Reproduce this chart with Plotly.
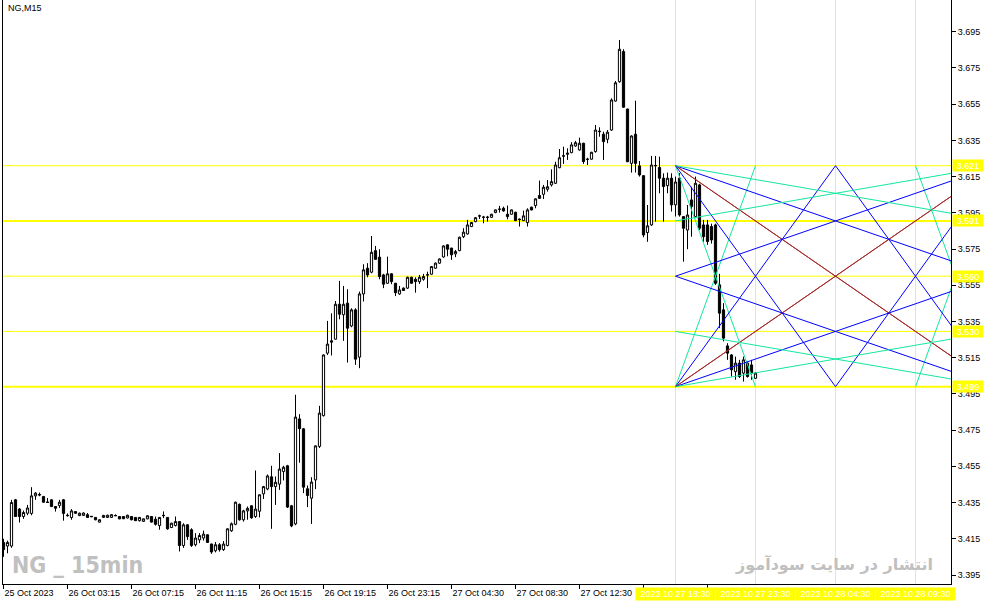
import plotly.graph_objects as go

# ---------------- candle data (NG, M15) ----------------
bar_open = [3.413, 3.411, 3.411, 3.4365, 3.4314, 3.4273, 3.4291, 3.429, 3.4387, 3.4395,
            3.4383, 3.4353, 3.4365, 3.4328, 3.4334, 3.4365, 3.428, 3.4267, 3.430, 3.4278,
            3.4279, 3.4283, 3.4274, 3.4268, 3.4242, 3.4268, 3.4268, 3.4268, 3.4277, 3.4273,
            3.4273, 3.4265, 3.4273, 3.4268, 3.425, 3.4246, 3.426, 3.4273, 3.4258, 3.4223,
            3.4277, 3.4268, 3.4212, 3.4223, 3.4245, 3.4113, 3.4227, 3.420, 3.4117, 3.4144,
            3.4154, 3.4172, 3.4121, 3.4084, 3.4117, 3.409, 3.4113, 3.4194, 3.423, 3.434,
            3.4255, 3.4304, 3.4332, 3.4273, 3.4302, 3.4398, 3.4425, 3.4492, 3.4438, 3.4452,
            3.4521, 3.4553, 3.4332, 3.4232, 3.4812, 3.4757, 3.4426, 3.4374, 3.4475, 3.466,
            3.483, 3.5175, 3.5243, 3.5252, 3.5445, 3.5387, 3.5451, 3.5325, 3.5414, 3.5153,
            3.5502, 3.5644, 3.5622, 3.5741, 3.5705, 3.5607, 3.5561, 3.5613, 3.5561, 3.5502,
            3.5534, 3.5534, 3.5594, 3.5583, 3.557, 3.5583, 3.5606, 3.5611, 3.5644, 3.5672,
            3.5706, 3.5773, 3.5755, 3.5723, 3.5741, 3.5818, 3.5833, 3.5874, 3.5901, 3.5932,
            3.5925, 3.5926, 3.5925, 3.5951, 3.5969, 3.5975, 3.5942, 3.5942, 3.5953, 3.5915,
            3.5907, 3.5896, 3.5981, 3.599, 3.6045, 3.6052, 3.608, 3.6104, 3.6113, 3.6199,
            3.6265, 3.6273, 3.6282, 3.6319, 3.6297, 3.6334, 3.6246, 3.6246, 3.6288, 3.6398,
            3.6384, 3.6356, 3.6407, 3.6567, 3.6674, 3.684, 3.6523, 3.6223, 3.6384, 3.6209,
            3.6155, 3.5841, 3.5883, 3.6209, 3.620, 3.6141, 3.610, 3.6141, 3.5994, 3.6141,
            3.5929, 3.5855, 3.6021, 3.5929, 3.6104, 3.5883, 3.5883, 3.5874, 3.5883, 3.5552,
            3.5414, 3.5215, 3.5165, 3.5073, 3.512, 3.5065, 3.512, 3.511, 3.5036]
bar_high = [3.415, 3.414, 3.4365, 3.437, 3.432, 3.4306, 3.4337, 3.4435, 3.4408, 3.4405,
            3.4387, 3.4375, 3.4368, 3.433, 3.4365, 3.437, 3.429, 3.4314, 3.4302, 3.4295,
            3.4296, 3.4292, 3.4276, 3.427, 3.4257, 3.4282, 3.4283, 3.4285, 3.4285, 3.4275,
            3.4276, 3.4283, 3.4276, 3.427, 3.427, 3.4262, 3.428, 3.4276, 3.4273, 3.427,
            3.4301, 3.427, 3.4238, 3.4273, 3.4247, 3.4236, 3.423, 3.4208, 3.4181, 3.4181,
            3.4195, 3.4174, 3.4123, 3.4132, 3.4126, 3.4137, 3.4208, 3.424, 3.4355, 3.4345,
            3.431, 3.4328, 3.4335, 3.4527, 3.4395, 3.4442, 3.4505, 3.4553, 3.4494, 3.4623,
            3.4553, 3.4558, 3.4337, 3.4945, 3.4838, 3.4762, 3.4444, 3.449, 3.4665, 3.4884,
            3.5168, 3.5353, 3.5395, 3.5463, 3.5574, 3.5546, 3.5528, 3.5423, 3.5423, 3.5515,
            3.5666, 3.5672, 3.5822, 3.5767, 3.5749, 3.5613, 3.5708, 3.5616, 3.5563, 3.5546,
            3.5538, 3.5597, 3.5597, 3.5594, 3.5607, 3.5613, 3.5625, 3.5656, 3.5675, 3.5698,
            3.577, 3.5776, 3.5757, 3.5745, 3.5818, 3.5865, 3.5911, 3.590, 3.5927, 3.594,
            3.5933, 3.5933, 3.5944, 3.5968, 3.5988, 3.5984, 3.599, 3.5968, 3.5956, 3.5919,
            3.5962, 3.5975, 3.5984, 3.603, 3.6128, 3.6104, 3.6131, 3.619, 3.6232, 3.6302,
            3.6315, 3.6306, 3.634, 3.6347, 3.6365, 3.6337, 3.6254, 3.6287, 3.6435, 3.6422,
            3.6398, 3.6407, 3.6582, 3.6678, 3.6904, 3.6853, 3.6525, 3.6378, 3.6569, 3.6236,
            3.6158, 3.5993, 3.6264, 3.6264, 3.626, 3.6168, 3.6172, 3.6168, 3.615, 3.617,
            3.5932, 3.5993, 3.6094, 3.615, 3.611, 3.5911, 3.5911, 3.589, 3.589, 3.5613,
            3.5451, 3.523, 3.517, 3.5156, 3.5138, 3.5156, 3.5125, 3.5138, 3.507]
bar_low = [3.405, 3.407, 3.410, 3.427, 3.424, 3.426, 3.428, 3.428, 3.4365, 3.4385,
           3.435, 3.435, 3.4325, 3.430, 3.432, 3.425, 3.4272, 3.4255, 3.4288, 3.4275,
           3.4276, 3.4265, 3.427, 3.4252, 3.424, 3.4265, 3.4266, 3.4265, 3.4276, 3.4258,
           3.4258, 3.4262, 3.4252, 3.4248, 3.4245, 3.4243, 3.4258, 3.424, 3.4223, 3.420,
           3.4264, 3.420, 3.421, 3.4218, 3.408, 3.410, 3.4144, 3.4105, 3.4108, 3.4126,
           3.414, 3.4128, 3.4067, 3.4075, 3.4079, 3.4083, 3.4108, 3.4188, 3.4225, 3.425,
           3.4245, 3.4255, 3.426, 3.4265, 3.4268, 3.437, 3.4418, 3.4205, 3.4337, 3.442,
           3.4472, 3.432, 3.4214, 3.4225, 3.457, 3.4402, 3.4325, 3.4232, 3.4424, 3.4651,
           3.4825, 3.5165, 3.5162, 3.525, 3.5362, 3.5243, 3.5123, 3.5318, 3.511, 3.5092,
           3.546, 3.5594, 3.5616, 3.5692, 3.5583, 3.5534, 3.5558, 3.5556, 3.549, 3.5497,
           3.5518, 3.553, 3.5558, 3.5509, 3.5557, 3.5575, 3.5534, 3.5608, 3.564, 3.5668,
           3.5702, 3.571, 3.569, 3.5705, 3.5738, 3.581, 3.583, 3.5871, 3.5898, 3.5916,
           3.5892, 3.5901, 3.5922, 3.5948, 3.5951, 3.5957, 3.5914, 3.594, 3.5904, 3.5874,
           3.5904, 3.5874, 3.5963, 3.5975, 3.6027, 3.6026, 3.6067, 3.6095, 3.6109, 3.6196,
           3.622, 3.6242, 3.6279, 3.6315, 3.6293, 3.622, 3.6214, 3.6243, 3.6282, 3.637,
           3.6242, 3.6334, 3.6402, 3.6564, 3.6668, 3.653, 3.623, 3.6172, 3.6172, 3.615,
           3.5815, 3.579, 3.5878, 3.5901, 3.6058, 3.5901, 3.6058, 3.5957, 3.593, 3.5929,
           3.568, 3.5749, 3.5818, 3.592, 3.5855, 3.579, 3.5773, 3.578, 3.5552, 3.5313,
           3.524, 3.5138, 3.5046, 3.5028, 3.5038, 3.5018, 3.504, 3.5028, 3.5033]
bar_close = [3.409, 3.413, 3.435, 3.4273, 3.4273, 3.4295, 3.432, 3.4387, 3.4402, 3.4392,
             3.4352, 3.4351, 3.4328, 3.4319, 3.4352, 3.429, 3.4278, 3.4304, 3.4291, 3.4291,
             3.4292, 3.4268, 3.4272, 3.4255, 3.4255, 3.4279, 3.428, 3.4283, 3.4278, 3.426,
             3.4261, 3.428, 3.4255, 3.425, 3.4268, 3.426, 3.4277, 3.4242, 3.423, 3.4268,
             3.4279, 3.4205, 3.4236, 3.4245, 3.4113, 3.4227, 3.4162, 3.4113, 3.4154, 3.4168,
             3.4176, 3.413, 3.4077, 3.4117, 3.409, 3.4121, 3.4205, 3.4233, 3.4352, 3.4255,
             3.4304, 3.4318, 3.4266, 3.4314, 3.4393, 3.4438, 3.4497, 3.4438, 3.4462, 3.4535,
             3.4545, 3.4325, 3.4221, 3.4822, 3.4758, 3.4435, 3.4389, 3.4463, 3.4663, 3.4844,
             3.5165, 3.5225, 3.5236, 3.5445, 3.539, 3.5445, 3.5313, 3.5414, 3.5142, 3.5502,
             3.5635, 3.5607, 3.5732, 3.5693, 3.5598, 3.5556, 3.5613, 3.557, 3.5509, 3.5524,
             3.5521, 3.5594, 3.5561, 3.557, 3.5594, 3.5598, 3.5608, 3.5653, 3.5672, 3.5695,
             3.5767, 3.5749, 3.5718, 3.5736, 3.5815, 3.5843, 3.5883, 3.5896, 3.5923, 3.5933,
             3.5926, 3.5925, 3.5942, 3.5966, 3.597, 3.596, 3.5929, 3.5966, 3.5907, 3.5913,
             3.5933, 3.5966, 3.5966, 3.6027, 3.603, 3.6091, 3.6094, 3.6122, 3.6214, 3.6254,
             3.6263, 3.6279, 3.6325, 3.6337, 3.6334, 3.6233, 3.6245, 3.6284, 3.6407, 3.640,
             3.6343, 3.6395, 3.6573, 3.6668, 3.6853, 3.6533, 3.6232, 3.6374, 3.6223, 3.6159,
             3.5828, 3.5878, 3.6214, 3.6211, 3.6141, 3.6095, 3.6141, 3.5994, 3.612, 3.5938,
             3.5865, 3.5938, 3.5985, 3.6113, 3.5865, 3.5818, 3.5791, 3.580, 3.5561, 3.5396,
             3.5258, 3.5175, 3.5083, 3.512, 3.5046, 3.5138, 3.5046, 3.5065, 3.5065]
bar_index = list(range(len(bar_open)))

# ---------------- axes ----------------
# the last two time labels sit under the yellow Gann time labels, so they stay blank
x_tick_bars = [0, 16, 32, 48, 64, 80, 96, 112, 128, 144, 160, 176]
x_tick_labels = ["25 Oct 2023", "26 Oct 03:15", "26 Oct 07:15", "26 Oct 11:15",
                 "26 Oct 15:15", "26 Oct 19:15", "26 Oct 23:15", "27 Oct 04:30",
                 "27 Oct 08:30", "27 Oct 12:30", "", ""]
y_tick_values = [3.395, 3.415, 3.435, 3.455, 3.475, 3.495, 3.515, 3.535, 3.555,
                 3.575, 3.595, 3.615, 3.635, 3.655, 3.675, 3.695]
y_tick_labels = ["3.395", "3.415", "3.435", "3.455", "3.475", "3.495", "3.515", "3.535",
                 "3.555", "3.575", "3.595", "3.615", "3.635", "3.655", "3.675", "3.695"]

# ---------------- Gann grid object ----------------
gann_time_bars = [168, 188, 208, 228]
gann_time_labels = ["2023.10.27 18:30", "2023.10.27 23:30", "2023.10.28 04:30", "2023.10.28 09:30"]
gann_levels = [3.499, 3.5295, 3.560, 3.5905, 3.621]
gann_level_labels = ["3.499", "3.530", "3.560", "3.591", "3.621"]
gann_level_widths = [2, 1, 1, 2, 1]
fan_ratios = [1, 2, 4, 8, 16]
fan_colors = ["#14E6A0", "#0000FF", "#A52A2A", "#0000FF", "#14E6A0"]

YEL = "#FFFF00"
FONT = "Liberation Sans, Arial, sans-serif"

fig = go.Figure()

# Gann fan lines from the four corners of the box (4 columns wide)
t0 = gann_time_bars[0]
step = gann_time_bars[1] - gann_time_bars[0]
lo, hi = gann_levels[0], gann_levels[-1]
ncols = 4
corners = [(0, 1, 1, -1), (0, 0, 1, 1), (ncols, 1, -1, -1), (ncols, 0, -1, 1)]
for r, col in zip(fan_ratios, fan_colors):
    for (uc, vc, du, dv) in corners:
        span = min(r, ncols)
        u1 = uc + du * span
        v1 = vc + dv * span / r
        fig.add_trace(go.Scatter(
            x=[t0 + uc * step, t0 + u1 * step],
            y=[lo + vc * (hi - lo), lo + v1 * (hi - lo)],
            mode="lines", line=dict(color=col, width=1),
            hoverinfo="skip", showlegend=False))

fig.add_trace(go.Candlestick(
    x=bar_index, open=bar_open, high=bar_high, low=bar_low, close=bar_close,
    increasing=dict(line=dict(color="black", width=1), fillcolor="white"),
    decreasing=dict(line=dict(color="black", width=1), fillcolor="black"),
    whiskerwidth=0, hoverinfo="skip", showlegend=False))

shapes = []
for lvl, w in zip(gann_levels, gann_level_widths):
    shapes.append(dict(type="line", xref="paper", x0=0, x1=1, yref="y", y0=lvl, y1=lvl,
                       line=dict(color=YEL, width=w), layer="below"))
for tb in gann_time_bars:
    shapes.append(dict(type="line", xref="x", x0=tb, x1=tb, yref="paper", y0=0, y1=1,
                       line=dict(color=YEL, width=1), layer="below"))

annotations = []
for lvl, lab in zip(gann_levels, gann_level_labels):
    annotations.append(dict(xref="paper", x=1, xanchor="left", xshift=1, yref="y", y=lvl,
                            yanchor="middle", text=lab, showarrow=False, bgcolor=YEL,
                            width=30, height=11, borderpad=0,
                            font=dict(family=FONT, size=9, color="white")))
for tb, lab in zip(gann_time_bars, gann_time_labels):
    annotations.append(dict(xref="x", x=tb, xanchor="center", yref="paper", y=0,
                            yanchor="top", yshift=-3, text=lab, showarrow=False,
                            bgcolor=YEL, width=79, height=12, borderpad=0,
                            font=dict(family=FONT, size=9, color="white")))
annotations.append(dict(xref="paper", x=0, xanchor="left", xshift=3, yref="paper", y=1,
                        yanchor="top", yshift=-1, text="NG,M15", showarrow=False,
                        font=dict(family=FONT, size=9, color="black")))
annotations.append(dict(xref="paper", x=0.0074, xanchor="left", yref="paper", y=0.033,
                        yanchor="middle", text="<b>NG _ 15min</b>", showarrow=False,
                        font=dict(family="DejaVu Sans Condensed, sans-serif",
                                  size=23, color="#C0C0C0")))
annotations.append(dict(xref="paper", x=0.983, xanchor="right", yref="paper", y=0.035,
                        yanchor="middle", text="<b>انتشار در سایت سودآموز</b>", showarrow=False,
                        font=dict(family="DejaVu Sans, sans-serif", size=16, color="#C0C0C0")))

fig.update_layout(
    width=991, height=605,
    margin=dict(l=3, r=40, t=0, b=21, pad=0),
    paper_bgcolor="white", plot_bgcolor="white",
    showlegend=False, hovermode=False,
    boxgap=0.45, boxgroupgap=0,
    shapes=shapes, annotations=annotations,
    xaxis=dict(range=[-0.125, 236.875], tickmode="array", tickvals=x_tick_bars,
               ticktext=x_tick_labels, ticks="outside", ticklen=4, tickcolor="black",
               ticklabelposition="outside right",
               showgrid=False, zeroline=False, showline=True, linecolor="black", linewidth=1,
               rangeslider=dict(visible=False), fixedrange=True,
               tickfont=dict(family=FONT, size=9, color="black")),
    yaxis=dict(range=[3.39003, 3.7125], side="right", tickmode="array", tickvals=y_tick_values,
               ticktext=y_tick_labels, ticks="outside", ticklen=4, tickcolor="black",
               showgrid=False, zeroline=False, showline=True, linecolor="black", linewidth=1,
               mirror=True, fixedrange=True,
               tickfont=dict(family=FONT, size=9, color="black")),
)

fig.write_html("out.html", config={"displayModeBar": False},
               post_script="document.body.style.margin='0';document.body.style.overflow='hidden';")
